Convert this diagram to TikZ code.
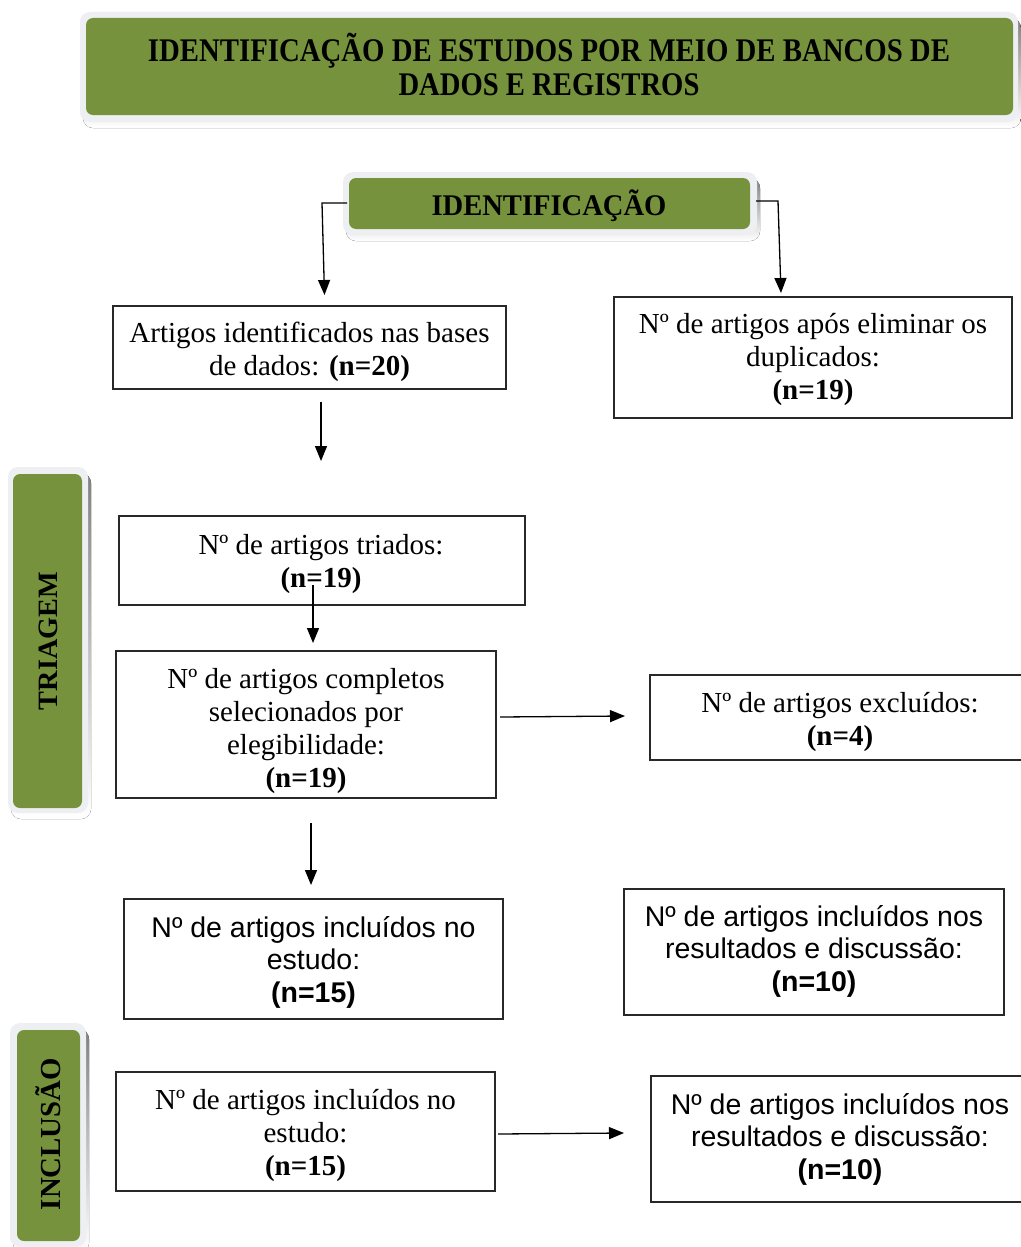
\documentclass[tikz,border=0pt]{standalone}
\usepackage{fontspec}
\usepackage{graphicx}
\setmainfont{Liberation Serif}
\newfontfamily\arialfont{Liberation Sans}
\usetikzlibrary{arrows.meta}
\definecolor{olive}{RGB}{118,146,60}
\definecolor{glow}{RGB}{238,239,243}
\definecolor{shade}{RGB}{150,160,188}
\definecolor{edge}{RGB}{40,40,40}
\tikzset{
  frame/.style={draw=edge, line width=1.1pt, inner sep=0pt},
  serif/.style={inner sep=0pt, align=center, font=\fontsize{29}{33}\selectfont},
  sans/.style={inner sep=0pt, align=center, font=\arialfont\fontsize{28.5}{32.5}\selectfont},
  flowarrow/.style={line width=1.3pt, -{Triangle[length=15pt,width=12pt]}},
}
% banner: glow frame, bluish shadow and olive face
\newcommand{\banner}[8]{%
  \fill[shade, rounded corners=10pt] (#1+3,#2+6) rectangle (#3+3,#4+6);
  \fill[glow, rounded corners=10pt] (#1,#2) rectangle (#3,#4);
  \fill[olive, rounded corners=7pt] (#5,#6) rectangle (#7,#8);
}
\begin{document}
\begin{tikzpicture}[x=1pt,y=-1pt]
\useasboundingbox[fill=white] (0,0) rectangle (1020,1247);

% headings
\banner{80}{12}{1018}{122}{86}{18}{1013}{115}
\node[font=\bfseries\fontsize{33}{34}\selectfont, inner sep=0pt, align=center] (title) at (549,64)
  {\resizebox{802pt}{\height}{IDENTIFICAÇÃO DE ESTUDOS POR MEIO DE BANCOS DE}\\[0pt]
   \resizebox{301pt}{\height}{DADOS E REGISTROS}};

\banner{343}{172}{757}{235}{349}{178}{750}{229}
\node[font=\bfseries\fontsize{30}{30}\selectfont, inner sep=0pt] (idn) at (549,206)
  {\resizebox{235pt}{\height}{IDENTIFICAÇÃO}};

\banner{8}{467}{88}{813}{13}{474}{82}{808}
\node[font=\bfseries\fontsize{28}{28}\selectfont, inner sep=0pt, rotate=90] (tri) at (48,641)
  {\resizebox{138pt}{\height}{TRIAGEM}};

\banner{10}{1023}{86}{1247}{17}{1030}{80}{1241}
\node[font=\bfseries\fontsize{29}{29}\selectfont, inner sep=0pt, rotate=90] (inc) at (48,1134)
  {\resizebox{152pt}{\height}{INCLUSÃO}};

% boxes
\node[frame, minimum width=393pt, minimum height=83pt] (b1) at (309.5,347.5) {};
\node[serif] (b1t) at (309.5,351.5) {Artigos identificados nas bases\\de dados: \textbf{(n=20)}};

\node[frame, minimum width=398pt, minimum height=121pt] (b2) at (813,357.5) {};
\node[serif] (b2t) at (813,359.5) {Nº de artigos após eliminar os\\duplicados:\\\textbf{(n=19)}};

\node[frame, minimum width=406pt, minimum height=89pt] (b3) at (322,560.5) {};
\node[serif] (b3t) at (321,564.5) {Nº de artigos triados:\\\textbf{(n=19)}};

\node[frame, minimum width=380pt, minimum height=147pt] (b4) at (306,724.5) {};
\node[serif] (b4t) at (306,731.5) {Nº de artigos completos\\selecionados por\\elegibilidade:\\\textbf{(n=19)}};

\node[frame, minimum width=380pt, minimum height=85pt] (b5) at (840,717.5) {};
\node[serif] (b5t) at (840,721.5) {Nº de artigos excluídos:\\\textbf{(n=4)}};

\node[frame, minimum width=379pt, minimum height=120pt] (b6) at (313.5,959) {};
\node[sans] (b6t) at (313.5,962) {Nº de artigos incluídos no\\estudo:\\\textbf{(n=15)}};

\node[frame, minimum width=380pt, minimum height=126pt] (b7) at (814,952) {};
\node[sans] (b7t) at (814,951) {Nº de artigos incluídos nos\\resultados e discussão:\\\textbf{(n=10)}};

\node[frame, minimum width=379pt, minimum height=119pt] (b8) at (305.5,1131.5) {};
\node[serif] (b8t) at (305.5,1135.5) {Nº de artigos incluídos no\\estudo:\\\textbf{(n=15)}};

\node[frame, minimum width=378pt, minimum height=126pt] (b9) at (840,1139) {};
\node[sans] (b9t) at (840,1139) {Nº de artigos incluídos nos\\resultados e discussão:\\\textbf{(n=10)}};

% free arrow ends
\coordinate (l0) at (347,203);
\coordinate (l1) at (322,203);
\coordinate (l2) at (324.5,295);
\coordinate (r0) at (756,201);
\coordinate (r1) at (778,201);
\coordinate (r2) at (781,293);
\coordinate (a1) at (321,402);
\coordinate (a2) at (321,461);
\coordinate (t1) at (313,585);
\coordinate (t2) at (313,643);
\coordinate (e0) at (500,717);
\coordinate (e1) at (625,716);
\coordinate (d1) at (311,823);
\coordinate (d2) at (311,885);
\coordinate (f0) at (498,1134);
\coordinate (f1) at (624,1133);

% connectors
\draw[flowarrow] (l0) -- (l1) -- (l2);
\draw[flowarrow] (r0) -- (r1) -- (r2);
\draw[flowarrow] (a1) -- (a2);
\draw[flowarrow] (t1) -- (t2);
\draw[flowarrow] (e0) -- (e1);
\draw[flowarrow] (d1) -- (d2);
\draw[flowarrow] (f0) -- (f1);
\end{tikzpicture}
\end{document}
